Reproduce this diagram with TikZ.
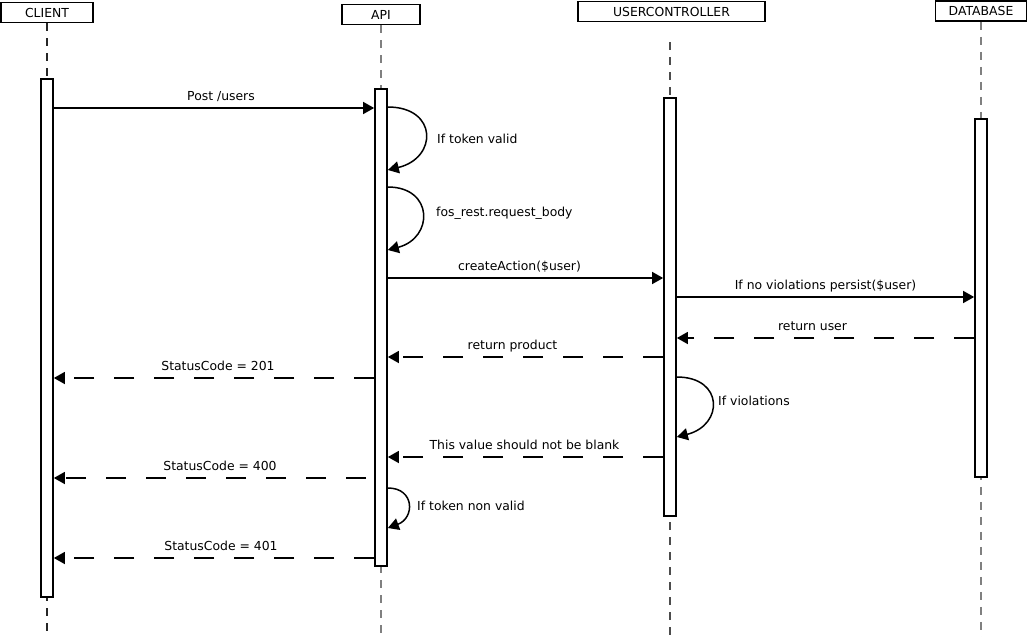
\documentclass[tikz,border=0pt]{standalone}
\usepackage{fontspec}
\setmainfont{DejaVu Sans}
\usetikzlibrary{arrows.meta,calc}
\begin{document}
\begin{tikzpicture}[x=1pt,y=-1pt,
  every node/.style={font=\fontsize{12.4}{15}\selectfont},
  head/.style={draw, line width=1.7pt, fill=white, minimum height=20pt, inner sep=0pt},
  act/.style={draw, line width=1.7pt, fill=white, minimum width=12pt, inner sep=0pt},
  life/.style={black!50, line width=1.5pt, dash pattern=on 8pt off 7pt},
  msg/.style={line width=1.5pt, -{Triangle[length=11pt,width=12pt]}},
  reply/.style={msg, dash pattern=on 20pt off 20pt},
  lbl/.style={inner sep=0pt, anchor=base, yshift=8pt},
  note/.style={inner sep=0pt, anchor=west}]
\useasboundingbox (0,0) rectangle (1028,637);

% participants
\node[head, minimum width=92pt]  (client) at (47,12.5)   {CLIENT};
\node[head, minimum width=78pt]  (api)    at (381,14.5)  {API};
\node[head, minimum width=187pt] (uc)     at (671.5,11.5){USERCONTROLLER};
\node[head, minimum width=91pt]  (db)     at (981,11)    {DATABASE};

% lifeline ends
\coordinate (clientend) at (47,637);
\coordinate (apiend)    at (381,637);
\coordinate (uctop)     at (670,42);
\coordinate (ucend)     at (670,637);
\coordinate (dbend)     at (981,637);

% lifelines
\draw[life, black!85, line width=1.2pt] (client.south) -- (clientend);
\draw[life] (api.south) -- (apiend);
\draw[life, black!70, line width=1.2pt] (uctop) -- (ucend);
\draw[life] (db.south) -- (dbend);

% activation bars
\node[act, minimum height=518pt] (clientact) at (47,338)   {};
\node[act, minimum height=477pt] (apiact)    at (381,327.5){};
\node[act, minimum height=418pt] (ucact)     at (670,307)  {};
\node[act, minimum height=358pt] (dbact)     at (981,298)  {};

% request
\draw[msg] (clientact.east |- 0,108) -- node[lbl, xshift=7pt] {Post /users} (apiact.west |- 0,108);

% token check
\draw[msg] (apiact.east |- 0,107) .. controls +(50,0) and +(50,-12) .. (apiact.east |- 0,170);
\node[note] (n1) at (437,139) {If token valid};
\draw[msg] (apiact.east |- 0,187) .. controls +(46,0) and +(46,-12) .. (apiact.east |- 0,250);
\node[note] (n2) at (436,213) {fos\_rest.request\_body};

% controller
\draw[msg] (apiact.east |- 0,278) -- node[lbl, xshift=-6pt] {createAction(\$user)} (ucact.west |- 0,278);
\draw[msg] (ucact.east |- 0,297) -- node[lbl] {If no violations persist(\$user)} (dbact.west |- 0,297);
\draw[reply] (dbact.west |- 0,338) -- node[lbl, xshift=-13pt] {return user} (ucact.east |- 0,338);
\draw[reply] (ucact.west |- 0,357) -- node[lbl, xshift=-13pt] {return product} (apiact.east |- 0,357);
\draw[reply] (apiact.west |- 0,378) -- node[lbl, xshift=4pt] {StatusCode = 201} (clientact.east |- 0,378);

% validation failure
\draw[msg] (ucact.east |- 0,377) .. controls +(47,0) and +(47,-12) .. (ucact.east |- 0,437);
\node[note] (n3) at (718,401) {If violations};
\draw[reply] (ucact.west |- 0,457) -- node[lbl, xshift=-1pt] {This value should not be blank} (apiact.east |- 0,457);
\draw[reply] ($(apiact.west |- 0,478)+(-8,0)$) -- node[lbl, xshift=10pt] {StatusCode = 400} (clientact.east |- 0,478);

% invalid token
\draw[msg] (apiact.east |- 0,488) .. controls +(27,0) and +(27,-10) .. (apiact.east |- 0,528);
\node[note] (n4) at (417,506) {If token non valid};
\draw[reply] (apiact.west |- 0,558) -- node[lbl, xshift=7pt] {StatusCode = 401} (clientact.east |- 0,558);
\end{tikzpicture}
\end{document}
